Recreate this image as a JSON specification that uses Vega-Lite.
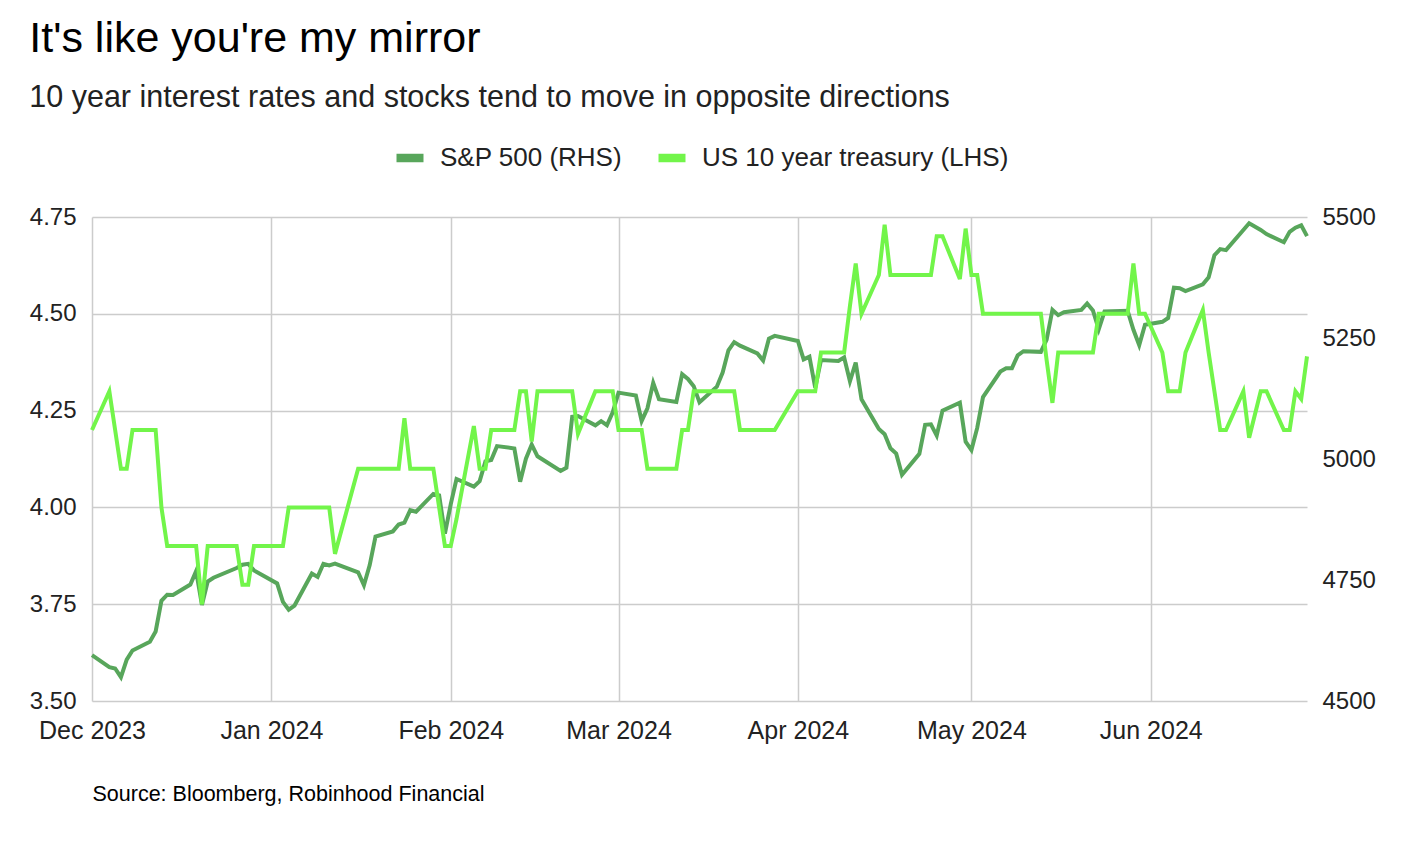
{
  "$schema": "https://vega.github.io/schema/vega-lite/v6.json",
  "width": 1215,
  "height": 484,
  "autosize": {"type": "none"},
  "padding": {"left": 92, "top": 217, "right": 105, "bottom": 147},
  "background": "white",
  "title": {
    "text": "It's like you're my mirror",
    "subtitle": "10 year interest rates and stocks tend to move in opposite directions",
    "anchor": "start",
    "frame": "bounds",
    "font": "Liberation Sans",
    "fontSize": 43,
    "fontWeight": "normal",
    "color": "#000000",
    "subtitleFont": "Liberation Sans",
    "subtitleFontSize": 30.5,
    "subtitleColor": "#222222",
    "subtitlePadding": 22,
    "offset": 27
  },
  "data": {
    "values": [
      {"date": "2023-12-01", "sp": 4594.63, "ty": 4.20},
      {"date": "2023-12-04", "sp": 4569.78, "ty": 4.30},
      {"date": "2023-12-05", "sp": 4567.18, "ty": 4.20},
      {"date": "2023-12-06", "sp": 4549.34, "ty": 4.10},
      {"date": "2023-12-07", "sp": 4585.59, "ty": 4.10},
      {"date": "2023-12-08", "sp": 4604.37, "ty": 4.20},
      {"date": "2023-12-11", "sp": 4622.44, "ty": 4.20},
      {"date": "2023-12-12", "sp": 4643.70, "ty": 4.20},
      {"date": "2023-12-13", "sp": 4707.09, "ty": 4.00},
      {"date": "2023-12-14", "sp": 4719.55, "ty": 3.90},
      {"date": "2023-12-15", "sp": 4719.19, "ty": 3.90},
      {"date": "2023-12-18", "sp": 4740.56, "ty": 3.90},
      {"date": "2023-12-19", "sp": 4768.37, "ty": 3.90},
      {"date": "2023-12-20", "sp": 4698.35, "ty": 3.75},
      {"date": "2023-12-21", "sp": 4746.75, "ty": 3.90},
      {"date": "2023-12-22", "sp": 4754.63, "ty": 3.90},
      {"date": "2023-12-26", "sp": 4774.75, "ty": 3.90},
      {"date": "2023-12-27", "sp": 4781.58, "ty": 3.80},
      {"date": "2023-12-28", "sp": 4783.35, "ty": 3.80},
      {"date": "2023-12-29", "sp": 4769.83, "ty": 3.90},
      {"date": "2024-01-02", "sp": 4742.83, "ty": 3.90},
      {"date": "2024-01-03", "sp": 4704.81, "ty": 3.90},
      {"date": "2024-01-04", "sp": 4688.68, "ty": 4.00},
      {"date": "2024-01-05", "sp": 4697.24, "ty": 4.00},
      {"date": "2024-01-08", "sp": 4763.54, "ty": 4.00},
      {"date": "2024-01-09", "sp": 4756.50, "ty": 4.00},
      {"date": "2024-01-10", "sp": 4783.45, "ty": 4.00},
      {"date": "2024-01-11", "sp": 4780.24, "ty": 4.00},
      {"date": "2024-01-12", "sp": 4783.83, "ty": 3.88},
      {"date": "2024-01-16", "sp": 4765.98, "ty": 4.10},
      {"date": "2024-01-17", "sp": 4739.21, "ty": 4.10},
      {"date": "2024-01-18", "sp": 4780.94, "ty": 4.10},
      {"date": "2024-01-19", "sp": 4839.81, "ty": 4.10},
      {"date": "2024-01-22", "sp": 4850.43, "ty": 4.10},
      {"date": "2024-01-23", "sp": 4864.60, "ty": 4.10},
      {"date": "2024-01-24", "sp": 4868.55, "ty": 4.23},
      {"date": "2024-01-25", "sp": 4894.16, "ty": 4.10},
      {"date": "2024-01-26", "sp": 4890.97, "ty": 4.10},
      {"date": "2024-01-29", "sp": 4927.93, "ty": 4.10},
      {"date": "2024-01-30", "sp": 4924.97, "ty": 4.00},
      {"date": "2024-01-31", "sp": 4845.65, "ty": 3.90},
      {"date": "2024-02-01", "sp": 4906.19, "ty": 3.90},
      {"date": "2024-02-02", "sp": 4958.61, "ty": 3.97},
      {"date": "2024-02-05", "sp": 4942.81, "ty": 4.21},
      {"date": "2024-02-06", "sp": 4954.23, "ty": 4.10},
      {"date": "2024-02-07", "sp": 4995.06, "ty": 4.10},
      {"date": "2024-02-08", "sp": 4997.91, "ty": 4.20},
      {"date": "2024-02-09", "sp": 5026.61, "ty": 4.20},
      {"date": "2024-02-12", "sp": 5021.84, "ty": 4.20},
      {"date": "2024-02-13", "sp": 4953.17, "ty": 4.30},
      {"date": "2024-02-14", "sp": 5000.62, "ty": 4.30},
      {"date": "2024-02-15", "sp": 5029.73, "ty": 4.17},
      {"date": "2024-02-16", "sp": 5005.57, "ty": 4.30},
      {"date": "2024-02-20", "sp": 4975.51, "ty": 4.30},
      {"date": "2024-02-21", "sp": 4981.80, "ty": 4.30},
      {"date": "2024-02-22", "sp": 5087.03, "ty": 4.30},
      {"date": "2024-02-23", "sp": 5088.80, "ty": 4.19},
      {"date": "2024-02-26", "sp": 5069.53, "ty": 4.30},
      {"date": "2024-02-27", "sp": 5078.18, "ty": 4.30},
      {"date": "2024-02-28", "sp": 5069.76, "ty": 4.30},
      {"date": "2024-02-29", "sp": 5096.27, "ty": 4.30},
      {"date": "2024-03-01", "sp": 5137.08, "ty": 4.20},
      {"date": "2024-03-04", "sp": 5130.95, "ty": 4.20},
      {"date": "2024-03-05", "sp": 5078.65, "ty": 4.20},
      {"date": "2024-03-06", "sp": 5104.76, "ty": 4.10},
      {"date": "2024-03-07", "sp": 5157.36, "ty": 4.10},
      {"date": "2024-03-08", "sp": 5123.69, "ty": 4.10},
      {"date": "2024-03-11", "sp": 5117.94, "ty": 4.10},
      {"date": "2024-03-12", "sp": 5175.27, "ty": 4.20},
      {"date": "2024-03-13", "sp": 5165.31, "ty": 4.20},
      {"date": "2024-03-14", "sp": 5150.48, "ty": 4.30},
      {"date": "2024-03-15", "sp": 5117.09, "ty": 4.30},
      {"date": "2024-03-18", "sp": 5149.42, "ty": 4.30},
      {"date": "2024-03-19", "sp": 5178.51, "ty": 4.30},
      {"date": "2024-03-20", "sp": 5224.62, "ty": 4.30},
      {"date": "2024-03-21", "sp": 5241.53, "ty": 4.30},
      {"date": "2024-03-22", "sp": 5234.18, "ty": 4.20},
      {"date": "2024-03-25", "sp": 5218.19, "ty": 4.20},
      {"date": "2024-03-26", "sp": 5203.58, "ty": 4.20},
      {"date": "2024-03-27", "sp": 5248.49, "ty": 4.20},
      {"date": "2024-03-28", "sp": 5254.35, "ty": 4.20},
      {"date": "2024-04-01", "sp": 5243.77, "ty": 4.30},
      {"date": "2024-04-02", "sp": 5205.81, "ty": 4.30},
      {"date": "2024-04-03", "sp": 5211.49, "ty": 4.30},
      {"date": "2024-04-04", "sp": 5147.21, "ty": 4.30},
      {"date": "2024-04-05", "sp": 5204.34, "ty": 4.40},
      {"date": "2024-04-08", "sp": 5202.39, "ty": 4.40},
      {"date": "2024-04-09", "sp": 5209.91, "ty": 4.40},
      {"date": "2024-04-10", "sp": 5160.64, "ty": 4.52},
      {"date": "2024-04-11", "sp": 5199.06, "ty": 4.63},
      {"date": "2024-04-12", "sp": 5123.41, "ty": 4.50},
      {"date": "2024-04-15", "sp": 5061.82, "ty": 4.60},
      {"date": "2024-04-16", "sp": 5051.41, "ty": 4.73},
      {"date": "2024-04-17", "sp": 5022.21, "ty": 4.60},
      {"date": "2024-04-18", "sp": 5011.12, "ty": 4.60},
      {"date": "2024-04-19", "sp": 4967.23, "ty": 4.60},
      {"date": "2024-04-22", "sp": 5010.60, "ty": 4.60},
      {"date": "2024-04-23", "sp": 5070.55, "ty": 4.60},
      {"date": "2024-04-24", "sp": 5071.63, "ty": 4.60},
      {"date": "2024-04-25", "sp": 5048.42, "ty": 4.70},
      {"date": "2024-04-26", "sp": 5099.96, "ty": 4.70},
      {"date": "2024-04-29", "sp": 5116.17, "ty": 4.59},
      {"date": "2024-04-30", "sp": 5035.69, "ty": 4.72},
      {"date": "2024-05-01", "sp": 5018.39, "ty": 4.60},
      {"date": "2024-05-02", "sp": 5064.20, "ty": 4.60},
      {"date": "2024-05-03", "sp": 5127.79, "ty": 4.50},
      {"date": "2024-05-06", "sp": 5180.74, "ty": 4.50},
      {"date": "2024-05-07", "sp": 5187.70, "ty": 4.50},
      {"date": "2024-05-08", "sp": 5187.67, "ty": 4.50},
      {"date": "2024-05-09", "sp": 5214.08, "ty": 4.50},
      {"date": "2024-05-10", "sp": 5222.68, "ty": 4.50},
      {"date": "2024-05-13", "sp": 5221.42, "ty": 4.50},
      {"date": "2024-05-14", "sp": 5246.68, "ty": 4.38},
      {"date": "2024-05-15", "sp": 5308.15, "ty": 4.27},
      {"date": "2024-05-16", "sp": 5297.10, "ty": 4.40},
      {"date": "2024-05-17", "sp": 5303.27, "ty": 4.40},
      {"date": "2024-05-20", "sp": 5308.13, "ty": 4.40},
      {"date": "2024-05-21", "sp": 5321.41, "ty": 4.40},
      {"date": "2024-05-22", "sp": 5307.01, "ty": 4.40},
      {"date": "2024-05-23", "sp": 5267.84, "ty": 4.50},
      {"date": "2024-05-24", "sp": 5304.72, "ty": 4.50},
      {"date": "2024-05-28", "sp": 5306.04, "ty": 4.50},
      {"date": "2024-05-29", "sp": 5266.95, "ty": 4.63},
      {"date": "2024-05-30", "sp": 5235.48, "ty": 4.50},
      {"date": "2024-05-31", "sp": 5277.51, "ty": 4.50},
      {"date": "2024-06-03", "sp": 5283.40, "ty": 4.40},
      {"date": "2024-06-04", "sp": 5291.34, "ty": 4.30},
      {"date": "2024-06-05", "sp": 5354.03, "ty": 4.30},
      {"date": "2024-06-06", "sp": 5352.96, "ty": 4.30},
      {"date": "2024-06-07", "sp": 5346.99, "ty": 4.40},
      {"date": "2024-06-10", "sp": 5360.79, "ty": 4.51},
      {"date": "2024-06-11", "sp": 5375.32, "ty": 4.40},
      {"date": "2024-06-12", "sp": 5421.03, "ty": 4.30},
      {"date": "2024-06-13", "sp": 5433.74, "ty": 4.20},
      {"date": "2024-06-14", "sp": 5431.60, "ty": 4.20},
      {"date": "2024-06-17", "sp": 5473.23, "ty": 4.30},
      {"date": "2024-06-18", "sp": 5487.03, "ty": 4.18},
      {"date": "2024-06-20", "sp": 5473.17, "ty": 4.30},
      {"date": "2024-06-21", "sp": 5464.62, "ty": 4.30},
      {"date": "2024-06-24", "sp": 5447.87, "ty": 4.20},
      {"date": "2024-06-25", "sp": 5469.30, "ty": 4.20},
      {"date": "2024-06-26", "sp": 5477.90, "ty": 4.30},
      {"date": "2024-06-27", "sp": 5482.87, "ty": 4.28},
      {"date": "2024-06-28", "sp": 5460.48, "ty": 4.39}
    ]
  },
  "encoding": {
    "x": {
      "field": "date",
      "type": "temporal",
      "scale": {
        "type": "utc",
        "domain": [
          {"year": 2023, "month": 12, "date": 1, "utc": true},
          {"year": 2024, "month": 6, "date": 28, "utc": true}
        ]
      },
      "axis": {
        "format": "%b %Y",
        "tickCount": {"interval": "month", "step": 1},
        "grid": true,
        "labelFlush": false,
        "labelOverlap": false,
        "labelPadding": 17,
        "labelFontSize": 25,
        "title": "Source: Bloomberg, Robinhood Financial",
        "titleAnchor": "start",
        "titleAlign": "left",
        "titleFont": "Liberation Sans",
        "titleFontSize": 21.5,
        "titleFontWeight": "normal",
        "titleColor": "#000000",
        "titlePadding": 40
      }
    }
  },
  "layer": [
    {
      "mark": {"type": "line", "strokeWidth": 4, "interpolate": "linear"},
      "encoding": {
        "y": {
          "field": "sp",
          "type": "quantitative",
          "scale": {"domain": [4500, 5500], "nice": false, "zero": false},
          "axis": {
            "orient": "right",
            "values": [4500, 4750, 5000, 5250, 5500],
            "format": "d",
            "grid": false,
            "labelPadding": 15,
            "labelFlush": false,
            "title": null
          }
        },
        "color": {
          "datum": "S&P 500 (RHS)",
          "type": "nominal",
          "scale": {
            "domain": ["S&P 500 (RHS)", "US 10 year treasury (LHS)"],
            "range": ["#58a65b", "#72f54a"]
          },
          "legend": {
            "orient": "none",
            "legendX": 300,
            "legendY": -77,
            "direction": "horizontal",
            "title": null,
            "labelFont": "Liberation Sans",
            "labelFontSize": 26,
            "labelColor": "#222222",
            "labelLimit": 0,
            "symbolType": "stroke",
            "symbolSize": 729,
            "symbolStrokeWidth": 8.5,
            "labelOffset": 12,
            "columnPadding": 18
          }
        }
      }
    },
    {
      "mark": {"type": "line", "strokeWidth": 4, "interpolate": "linear"},
      "encoding": {
        "y": {
          "field": "ty",
          "type": "quantitative",
          "scale": {"domain": [3.5, 4.75], "nice": false, "zero": false},
          "axis": {
            "orient": "left",
            "values": [3.5, 3.75, 4, 4.25, 4.5, 4.75],
            "format": ".2f",
            "grid": true,
            "labelPadding": 16,
            "labelFlush": false,
            "title": null
          }
        },
        "color": {"datum": "US 10 year treasury (LHS)", "type": "nominal"}
      }
    }
  ],
  "resolve": {"scale": {"y": "independent"}, "axis": {"y": "independent"}},
  "config": {
    "view": {"stroke": null},
    "axis": {
      "labelFont": "Liberation Sans",
      "labelFontSize": 24,
      "labelColor": "#222222",
      "ticks": false,
      "domain": false,
      "gridColor": "#cccccc",
      "gridWidth": 1.5
    }
  }
}
